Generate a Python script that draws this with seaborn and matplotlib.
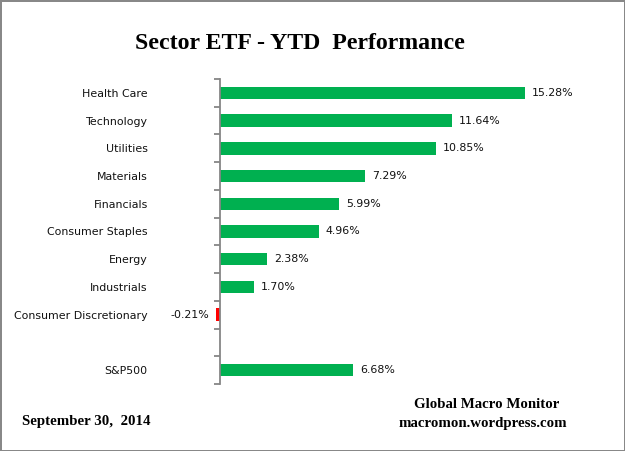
import numpy as np
import pandas as pd
import seaborn as sns
import matplotlib.pyplot as plt
from matplotlib.ticker import FixedLocator

sectors = ['Health Care', 'Technology', 'Utilities', 'Materials', 'Financials',
           'Consumer Staples', 'Energy', 'Industrials', 'Consumer Discretionary', 'S&P500']
ytd = [15.28, 11.64, 10.85, 7.29, 5.99, 4.96, 2.38, 1.70, -0.21, 6.68]
# empty slot between the sectors and the index
order = sectors[:9] + [' '] + ['S&P500']

GREEN = '#00B050'
RED = '#FF0000'
AXIS = '#868686'

df = pd.DataFrame({'sector': sectors, 'ytd': ytd})
colors = {s: (RED if v < 0 else GREEN) for s, v in zip(sectors, ytd)}

sns.set_style('white')
plt.rcParams['font.family'] = ['DejaVu Sans']

fig = plt.figure(figsize=(6.25, 4.51), dpi=100, edgecolor='#888888', linewidth=2)
ax = fig.add_axes([0.352, 0.1486, 0.606, 0.6762])

sns.barplot(data=df, y='sector', x='ytd', order=order, hue='sector',
            palette=colors, legend=False, width=0.45, saturation=1, ax=ax, orient='h')
for p in ax.patches:
    p.set_clip_on(False)
    p.set_linewidth(0)

ax.set_xlim(0, 19)
ax.set_xticks([])
ax.set_xlabel('')
ax.set_ylabel('')
for side in ['top', 'right', 'bottom']:
    ax.spines[side].set_visible(False)
ax.spines['left'].set_color(AXIS)
ax.spines['left'].set_linewidth(1.3)

ax.tick_params(axis='y', which='major', left=False, length=0, pad=52,
               labelsize=7.9, labelcolor='#111111')
ax.yaxis.set_minor_locator(FixedLocator(np.arange(-0.5, len(order), 1)))
ax.tick_params(axis='y', which='minor', left=True, length=4, width=1.3,
               color=AXIS, direction='out')

for s, v in zip(sectors, ytd):
    y = order.index(s)
    if v >= 0:
        ax.text(v + 0.35, y, f'{v:.2f}%', va='center', ha='left', fontsize=7.9, color='#111111')
    else:
        ax.text(v - 0.35, y, f'{v:.2f}%', va='center', ha='right', fontsize=7.9, color='#111111')

serif = ['Liberation Serif', 'DejaVu Serif']
fig.text(0.48, 0.903, 'Sector ETF - YTD  Performance', ha='center', va='center',
         fontsize=17.2, fontweight='bold', family=serif, color='black')
fig.text(0.035, 0.066, 'September 30,  2014', ha='left', va='center',
         fontsize=10.7, fontweight='bold', family=serif, color='black')
fig.text(0.778, 0.102, 'Global Macro Monitor', ha='center', va='center',
         fontsize=10.7, fontweight='bold', family=serif, color='black')
fig.text(0.772, 0.062, 'macromon.wordpress.com', ha='center', va='center',
         fontsize=10.7, fontweight='bold', family=serif, color='black')

fig.savefig('out.png', dpi=100, edgecolor=fig.get_edgecolor())
